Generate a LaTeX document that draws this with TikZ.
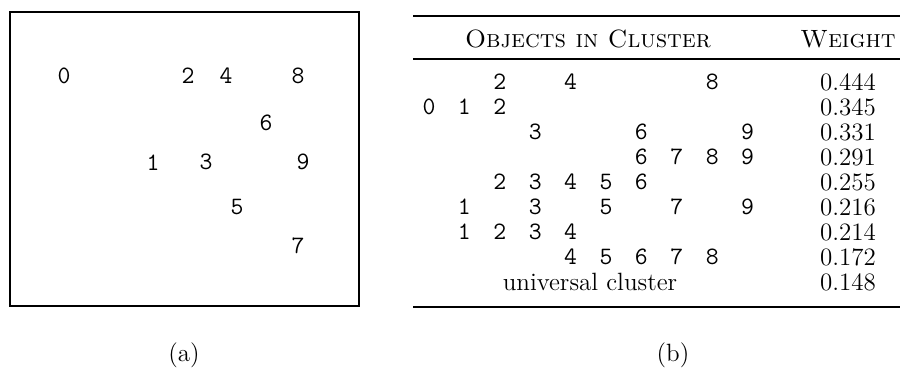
\documentclass[tikz,border=0pt]{standalone}
\usetikzlibrary{positioning}

\begin{document}
\begin{tikzpicture}[x=0.48pt,y=-0.48pt,
  every node/.style={font=\fontsize{12}{14}\selectfont},
  obj/.style={font=\fontsize{12}{14}\selectfont\ttfamily},
  heavy/.style={line width=1pt}]
\useasboundingbox (0,0) rectangle (900,367);

% (a) layout of the objects
\draw[line width=0.9pt] (10,12) rectangle (359,306);
\foreach \n/\px/\py in {0/64/76,1/153/163,2/188/76,3/206/162,4/226/76,
    5/237/207,6/266/123,7/298/246,8/298/76,9/303/162}
  \node[obj] (p\n) at (\px,\py) {\n};
\node (capa) at (184,355) {(a)};

% (b) clusters and weights
\draw[heavy] (413,16) -- (900,16);
\node (hobj) at (588,39) {\textsc{Objects in Cluster}};
\node (hwt) at (848,39) {\textsc{Weight}};
\draw[line width=0.6pt] (413,59) -- (900,59);
\foreach \r/\objs/\w in {0/{2,4,8}/0.444,1/{0,1,2}/0.345,2/{3,6,9}/0.331,
    3/{6,7,8,9}/0.291,4/{2,3,4,5,6}/0.255,5/{1,3,5,7,9}/0.216,
    6/{1,2,3,4}/0.214,7/{4,5,6,7,8}/0.172}{
  \foreach \c in \objs
    \node[obj] (c\r-\c) at ({429+35.4*\c},{82+25*\r}) {\c};
  \node (w\r) at (848,{82+25*\r}) {\w};
}
\node (univ) at (590,282) {universal cluster};
\node (w8) at (848,282) {0.148};
\draw[heavy] (413,307) -- (900,307);
\node (capb) at (673,355) {(b)};
\end{tikzpicture}
\end{document}
